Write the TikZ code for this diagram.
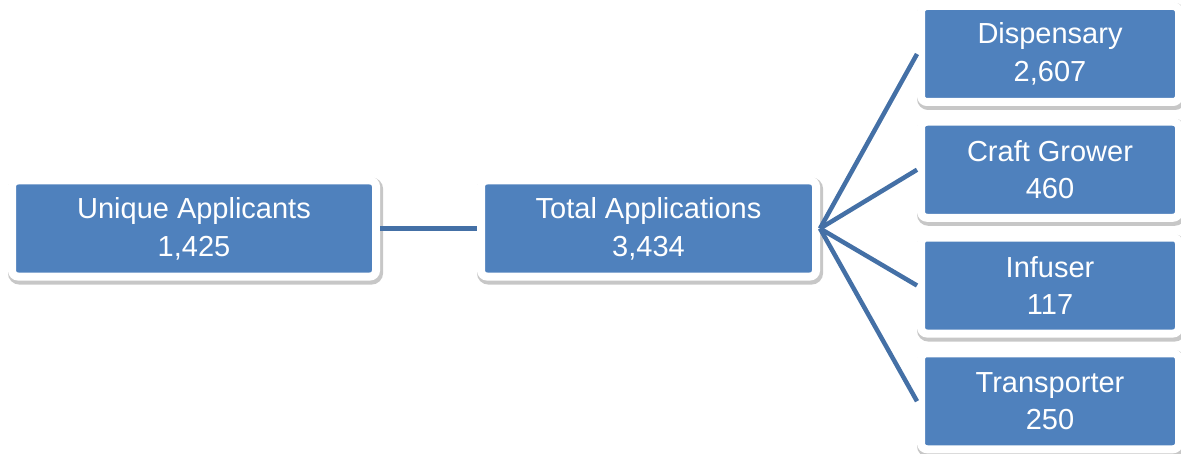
\documentclass[tikz,border=0pt]{standalone}
\usepackage{fontspec}
\setmainfont{Liberation Sans}
\usetikzlibrary{positioning, shadows}

\definecolor{boxblue}{HTML}{4F81BD}
\definecolor{lineblue}{HTML}{4470A6}

\begin{document}
\begin{tikzpicture}
    \tikzstyle{stage} = [fill=boxblue, draw=white, line width=0.16cm, rounded corners=0.12cm,
        minimum height=1.92cm, text=white, align=center, inner sep=0pt,
        font=\fontsize{16.5}{21.5}\selectfont,
        drop shadow={shadow xshift=0.03cm, shadow yshift=-0.05cm, fill=black, draw=black,
            line width=0.22cm, opacity=0.22}];
    \tikzstyle{link} = [draw=lineblue, line width=0.09cm];

    \useasboundingbox (0, 0) rectangle (23.62, 9.06);

    \node[stage, minimum width=7.28cm] at (3.88, 4.49) (U) {Unique Applicants\\1,425};
    \node[stage, minimum width=6.7cm, right = 1.94 of U] (T) {Total Applications\\3,434};

    \node[stage, minimum width=5.16cm] at (21.0, 7.98) (D) {Dispensary\\2,607};
    \node[stage, minimum width=5.16cm, below = 0.235 of D] (C) {Craft Grower\\460};
    \node[stage, minimum width=5.16cm, below = 0.235 of C] (I) {Infuser\\117};
    \node[stage, minimum width=5.16cm, below = 0.235 of I] (P) {Transporter\\250};

    \draw[link] (U.east) -- (T.west);
    \draw[link] (T.east) -- (D.west);
    \draw[link] (T.east) -- (C.west);
    \draw[link] (T.east) -- (I.west);
    \draw[link] (T.east) -- (P.west);
\end{tikzpicture}
\end{document}
